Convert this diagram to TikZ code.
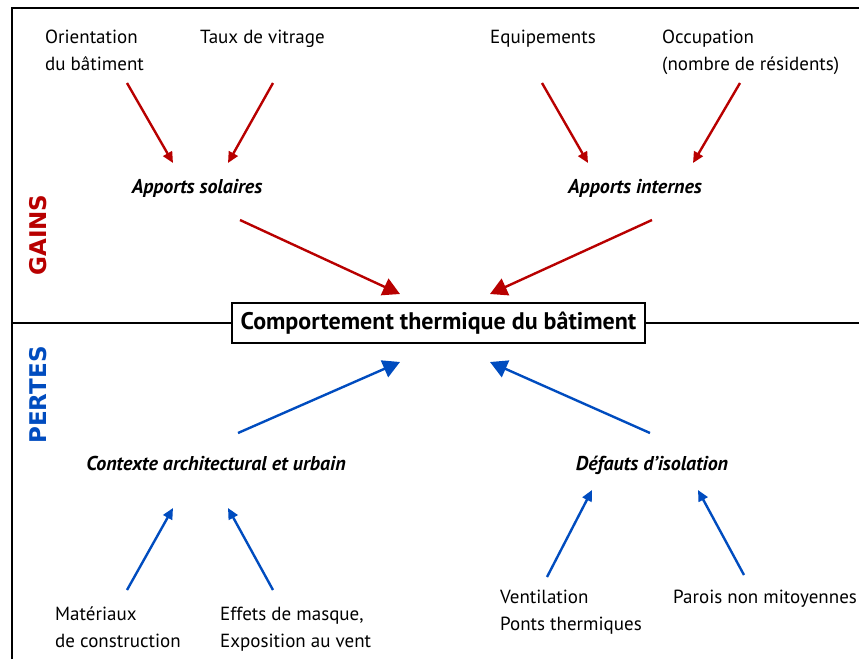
\documentclass[tikz,border=0pt]{standalone}
\usepackage{fontspec}
\setmainfont{PT Sans}
\newfontfamily\sidefont{DejaVu Sans}
\usetikzlibrary{arrows.meta}
\begin{document}
\begin{tikzpicture}[x=1pt, y=-1pt,
  label/.style = {inner sep=0pt, align=left, font=\fontsize{19}{27}\selectfont},
  apport/.style = {inner sep=0pt, font=\fontsize{20}{22}\selectfont\bfseries\itshape},
  side/.style = {rotate=90, inner sep=0pt, font=\fontsize{23}{24}\sidefont\bfseries},
  gain/.style = {draw=\COLORG, line width=2.4pt, -{Triangle[length=11pt,width=10pt]}},
  perte/.style = {draw=\COLORP, line width=2.4pt, -{Triangle[length=11pt,width=10pt]}},
  gainbig/.style = {gain, -{Triangle[length=17pt,width=18pt]}},
  pertebig/.style = {perte, -{Triangle[length=17pt,width=18pt]}}]
\def\COLORG{red!72!black}
\def\COLORP{blue!60!cyan!75!black}
\useasboundingbox (0,0) rectangle (859,659);
%frame
\draw [line width=1.5pt] (12,659) -- (12,8) -- (859,8);
%side titles
\node (gains) [side, text=\COLORG] at (38,235) {GAINS};
\node (pertes) [side, text=\COLORP] at (38,395) {PERTES};
%central box
\node (comport) [draw, line width=1.5pt, fill=white, minimum width=413pt, minimum height=40pt, inner sep=0pt, font=\fontsize{24}{26}\selectfont\bfseries] at (438.5,323) {Comportement thermique du b\^atiment};
\coordinate (lft) at (12,323);
\coordinate (rgt) at (859,323);
\draw [line width=1.8pt] (lft) -- (comport.west);
\draw [line width=1.8pt] (comport.east) -- (rgt);
%gains (base = last line)
\node (orient) [label, anchor=base west] at (45,70) {Orientation\\du b\^atiment};
\node (vitrage) [label, anchor=base west] at (200,43) {Taux de vitrage};
\node (equip) [label, anchor=base west] at (490,43) {Equipements};
\node (occup) [label, anchor=base west] at (662,70) {Occupation\\(nombre de r\'esidents)};
\node (solaires) [apport, anchor=base] at (197,193) {Apports solaires};
\node (internes) [apport, anchor=base] at (635,193) {Apports internes};
%pertes
\node (contexte) [apport, anchor=base] at (216,470) {Contexte architectural et urbain};
\node (defauts) [apport, anchor=base] at (652,470) {D\'efauts d'isolation};
\node (materiaux) [label, anchor=base west] at (55,647) {Mat\'eriaux\\de construction};
\node (masque) [label, anchor=base west] at (220,647) {Effets de masque,\\Exposition au vent};
\node (ventil) [label, anchor=base west] at (500,630) {Ventilation\\Ponts thermiques};
\node (parois) [label, anchor=base west] at (673,603) {Parois non mitoyennes};
%arrow ends
\coordinate (o1) at (127,83);  \coordinate (o2) at (173,163);
\coordinate (v1) at (273,83);  \coordinate (v2) at (228,163);
\coordinate (e1) at (542,83);  \coordinate (e2) at (588,163);
\coordinate (c1) at (740,83);  \coordinate (c2) at (693,163);
\coordinate (s1) at (240,220); \coordinate (s2) at (400,294);
\coordinate (i1) at (652,220); \coordinate (i2) at (490,294);
\coordinate (x1) at (238,433); \coordinate (x2) at (400,362);
\coordinate (d1) at (650,433); \coordinate (d2) at (490,362);
\coordinate (m1) at (127,590); \coordinate (m2) at (173,508);
\coordinate (k1) at (273,590); \coordinate (k2) at (228,508);
\coordinate (t1) at (547,577); \coordinate (t2) at (592,490);
\coordinate (p1) at (744,575); \coordinate (p2) at (698,490);
\draw [gain] (o1) -- (o2);
\draw [gain] (v1) -- (v2);
\draw [gain] (e1) -- (e2);
\draw [gain] (c1) -- (c2);
\draw [gainbig] (s1) -- (s2);
\draw [gainbig] (i1) -- (i2);
\draw [pertebig] (x1) -- (x2);
\draw [pertebig] (d1) -- (d2);
\draw [perte] (m1) -- (m2);
\draw [perte] (k1) -- (k2);
\draw [perte] (t1) -- (t2);
\draw [perte] (p1) -- (p2);
\end{tikzpicture}
\end{document}
